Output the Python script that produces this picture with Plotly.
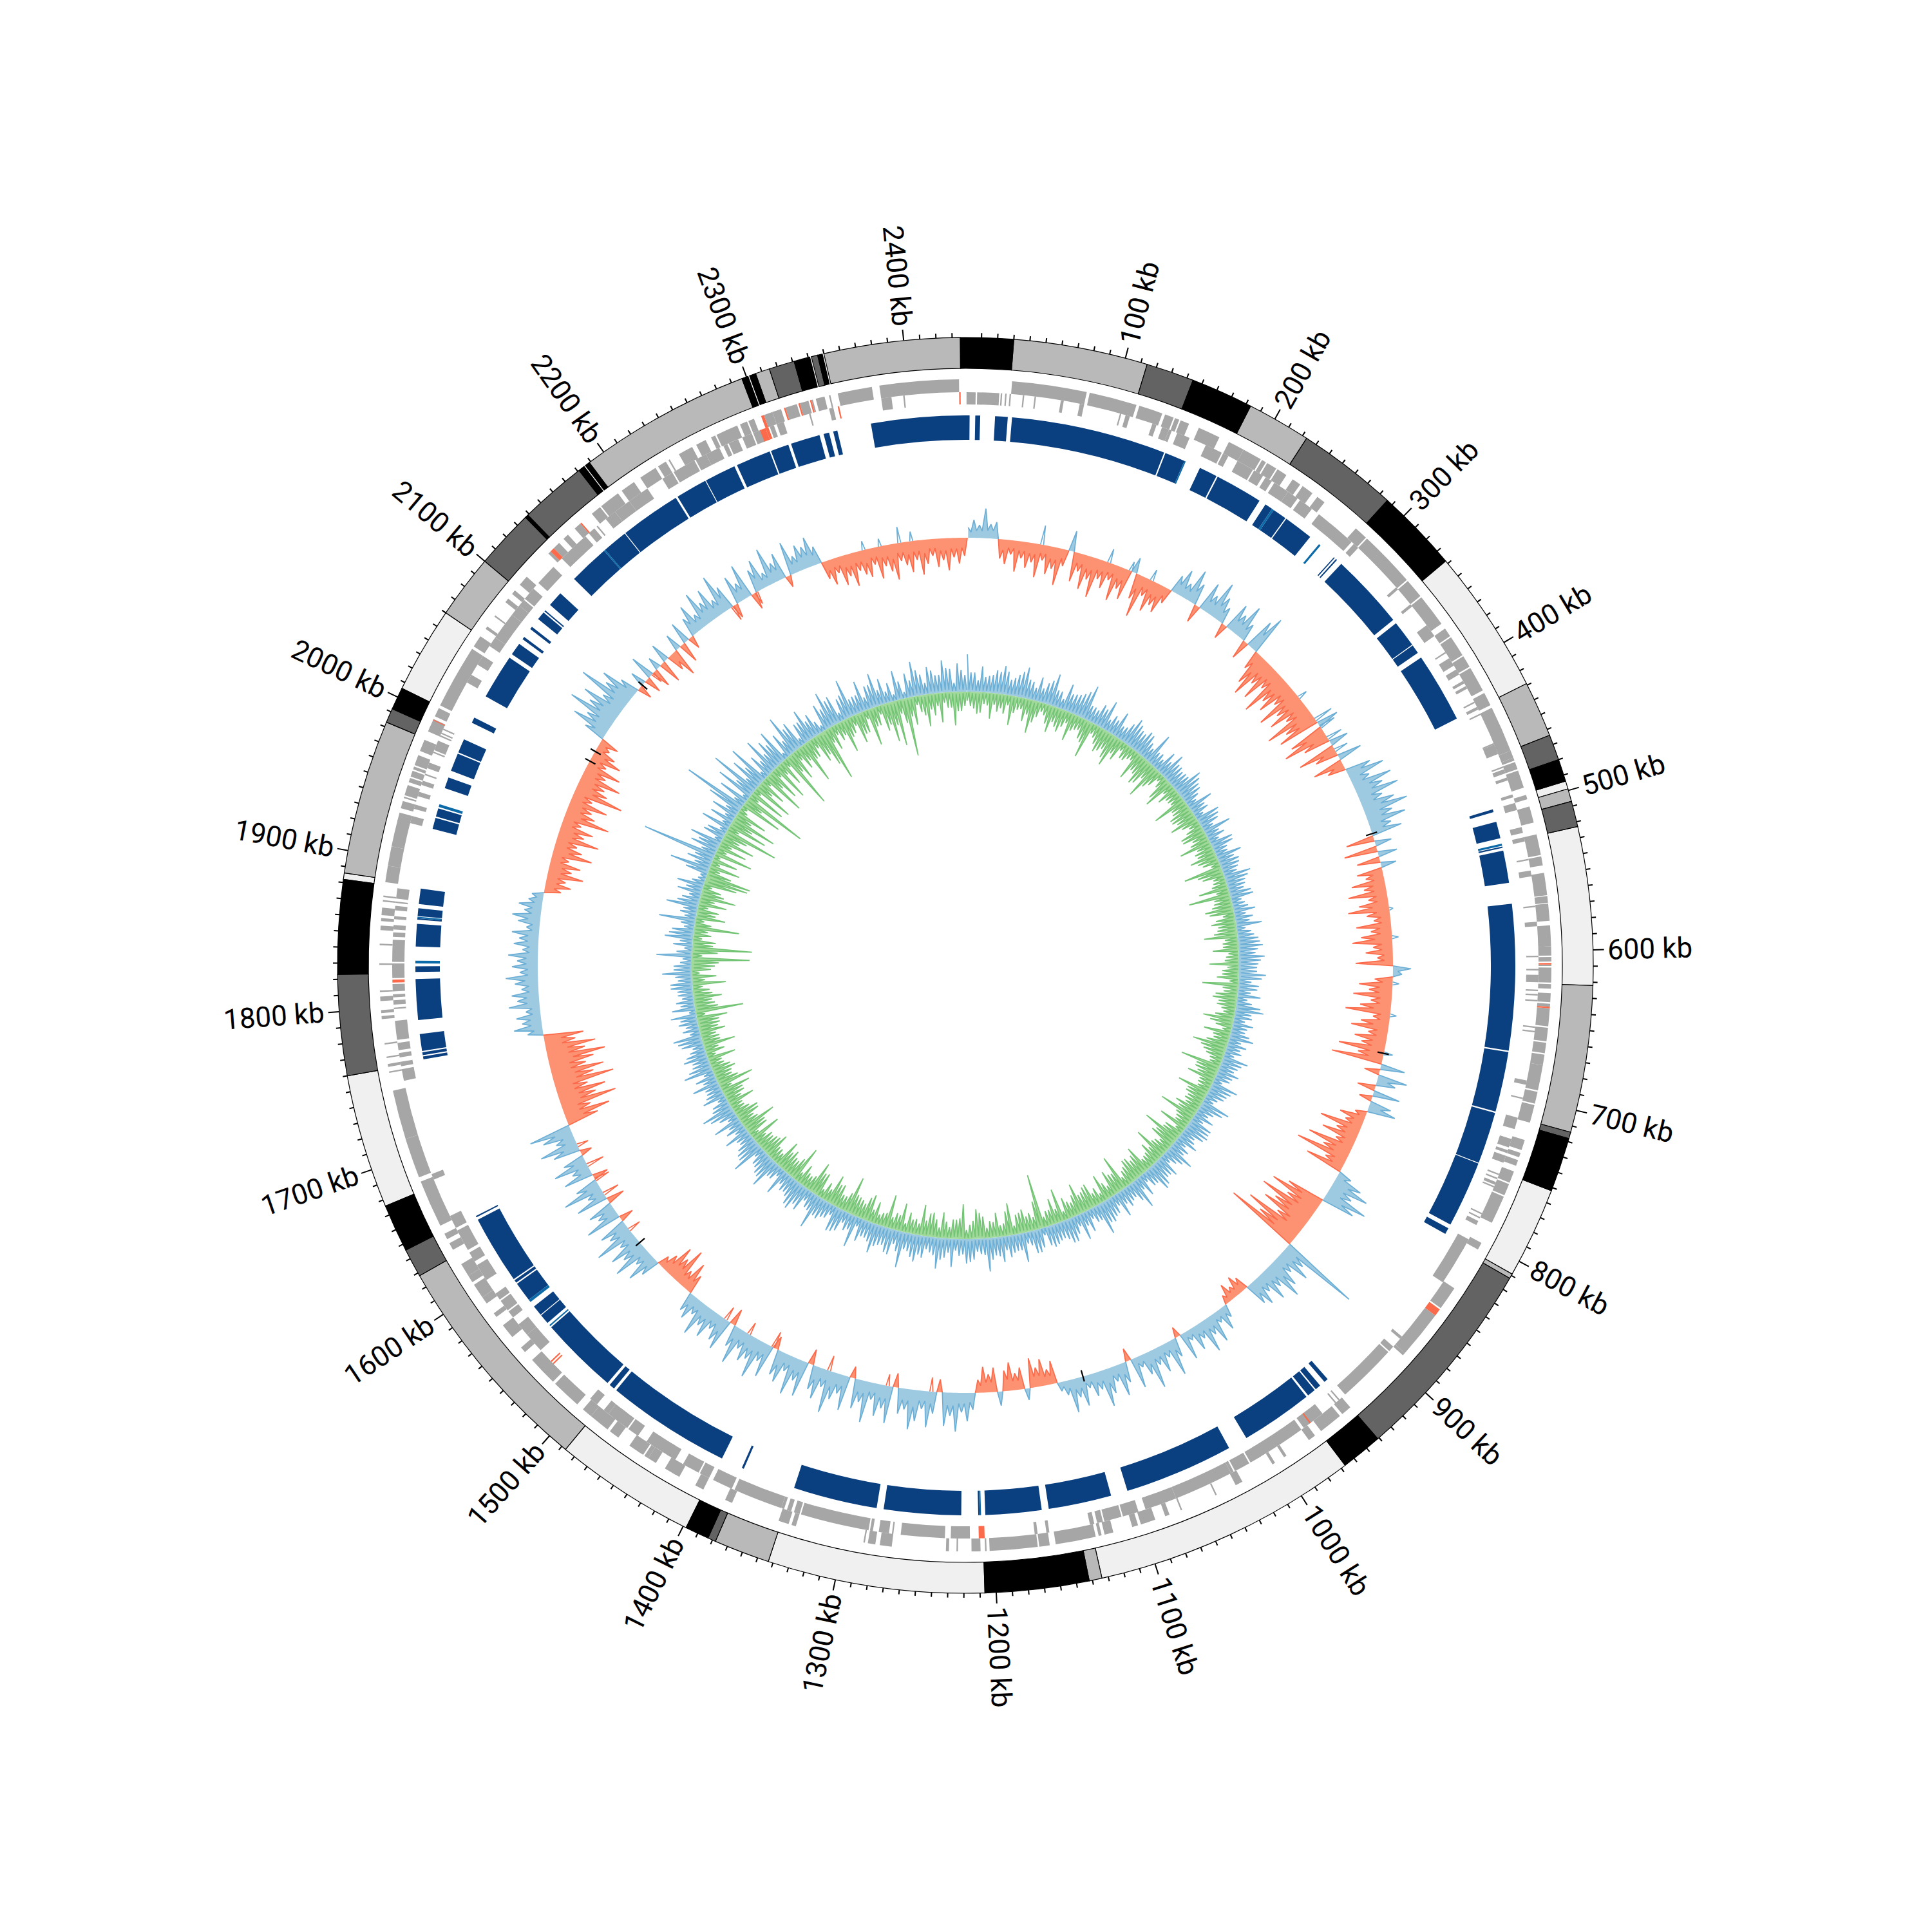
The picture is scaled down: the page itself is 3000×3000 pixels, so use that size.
import plotly.graph_objects as go
import math

GENOME_KB = 2438.2
DEG = 360.0 / GENOME_KB
R_OUT, R_BAND_IN = 975, 927
R_G1 = (890, 910)
R_G2 = (871, 890)
R_C = (816, 854)
BASE_SKEW, BASE_GC = 664, 425
BIN_KB = 5
CENTER = 1491

band_black = [(-3,30),(144,183),(286,338),(480,494),(718,752),(941,967),(1142,1207),(1383,1398),(1646,1676),(1823,1882),(1992,2006),(2137,2139),(2181,2185),(2186,2189),(2297,2301),(2302,2306),(2331,2341),(2346,2349)]
band_dark = [(114,144),(223,286),(464,480),(507,523),(714,718),(812,941),(1378,1383),(1628,1646),(1760,1823),(1983,1992),(2100,2137),(2139,2181),(2315,2331),(2342,2346)]
band_mid = [(30,114),(183,223),(429,464),(499,507),(622,714),(809,812),(1134,1142),(1343,1378),(1487,1628),(1886,1983),(2060,2100),(2189,2297),(2306,2315),(2350,2435)]
band_light = [(338,429),(494,499),(523,622),(752,809),(967,1134),(1207,1343),(1398,1487),(1676,1760),(1882,1886),(2006,2060)]

contigs = [(-67,3),(7,10.5),(21,30),(33,143.5),(144.5,159),(171,184),(185,219),(224,229.5),(231,241),(241.8,263),(285,285.8),(287,288),(292,346),(349,368),(368.6,375),(379,429),(498,500),(507,519),(525,526),(528,551),(566,670),(671,714),(715,752),(752.6,800),(803,807.5),(940,943),(947,951),(952,958),(959.5,1011),(1025,1103),(1115,1160),(1165,1205),(1209,1210),(1222,1277),(1282,1342),(1380,1381.5),(1397,1486),(1488,1492),(1494,1550),(1554,1561),(1561.6,1569),(1575,1589),(1590,1592),(1593,1642),(1644,1645),(1762,1764),(1765,1767),(1768,1780),(1790,1819),(1824,1828),(1842,1858),(1861,1862),(1863.5,1869),(1872,1883),(1926,1934),(1935,1941),(1956,1964),(1969,1982),(1983,1993),(2006,2010),(2027,2059),(2062,2071),(2075,2077),(2084,2086),(2093,2099),(2100,2101),(2106,2117),(2131,2160),(2161,2179),(2179.6,2223),(2224.5,2247),(2247.6,2270),(2272,2297),(2298,2311),(2313,2334),(2337,2341),(2344,2347)]
contigs_light = [(159,160),(229.5,231),(271,272.5),(523,524.5),(1208,1209),(1551,1552),(1573,1575),(1830,1832),(1862,1863),(1942,1944),(2160,2161)]

genes_outer = [(31,81),(83,115),(117,133),(135,141),(142,145),(146,152),(159,174),(181,192),(192,205),(206,209),(210,217),(218,225),(230,236),(238,246),(250,256),(283,292),(293,331),(332,345),(346,368),(372,378),(379,393),(394,402),(403,420),(422,431),(433,464),(464,469),(469,471),(472,477),(478,490),(495,498),(503,514),(522,536),(537,543),(548,563),(563.5,568),(568.5,580),(583,597),(597,603),(604,607),(609,610),(611,621),(622,625),(628,634),(635,637),(638,650),(651,660),(661,668),(669,676),(676,693),(694,702),(703,715),(727,734),(736,739),(741,745),(749,757),(758,766),(767,786),(801,806),(836,852),(858,890),(890,892),(941,948),(950,966),(971,976),(994,996),(1003,1005),(1028,1033),(1047,1048),(1072,1073),(1081,1084),(1091,1101),(1103,1107),(1120,1126),(1128,1130),(1132,1159),(1163,1170),(1171,1203),(1205,1206),(1209,1215),(1224,1225),(1230,1232),(1268,1276),(1279,1284),(1286,1287),(1333,1336),(1338,1345),(1378,1383),(1399,1405),(1417,1421),(1420,1428),(1435,1441),(1441,1444),(1445,1449),(1448,1456),(1465,1472),(1474,1488),(1488,1495),(1500,1520),(1522,1542),(1549,1553),(1562,1572),(1579,1582),(1590,1595),(1595,1605),(1607,1612),(1612,1621),(1632,1637),(1640,1644),(1650,1682),(1685,1712),(1712,1745),(1757,1758),(1761,1763),(1767,1768),(1776,1777),(1793,1795),(1797,1799),(1805,1808),(1811,1812),(1829,1830),(1842,1843),(1852,1855),(1858,1860),(1862,1867),(1871,1872),(1874,1875),(1884,1895),(1895,1908),(1908,1926),(1925,1931),(1934,1939),(1941,1942),(1943,1950),(1952,1955),(1956,1960),(1961,1963),(1964,1971),(1974,1982),(1988,1992),(1990,1997),(1999,2005),(2007,2050),(2052,2060),(2066,2068),(2076,2077),(2088,2091),(2095,2098),(2103,2110),(2131,2133),(2136,2141),(2145,2149),(2155,2160),(2170,2177),(2178,2192),(2195,2205),(2210,2222),(2224,2230),(2232,2233),(2240,2250),(2253,2260),(2264,2267),(2268,2283),(2285,2290),(2291,2295),(2302,2308),(2308,2314),(2317,2325),(2327,2333),(2335,2336),(2338,2344),(2347,2348),(2353,2376),(2381,2434)]
genes_inner = [(0.8,7),(8,23),(24,25),(27,28),(30,31),(39,40),(47,48),(65,67),(78,81),(106,107),(110,113),(129,132),(136,141),(141,143),(147,156),(168,180),(181,185),(192,204),(205,212),(214,219),(221,232),(232,240),(242,252),(258,287),(289,293),(330,332),(345,347),(363,372),(385,386),(390,396),(399,403),(408,410),(412,414),(424,425),(428,430),(433,434),(455,456),(456,460),(458,463),(472,473),(474,477),(480,482),(492,494),(498,503),(515,519),(522,525),(537,538),(545,549),(569,570),(580,583),(603,604),(612,613),(616,621),(626,627),(629,630),(633,634),(651,652),(654,655),(688,691),(700,701),(714,722),(729,735),(737,739),(741,746),(754,755),(757,758),(760,762),(763,764),(783,784),(786,787),(789,792),(803,811),(810,837),(883,885),(892,896),(897,938),(943,944),(946,947),(958,974),(976,1011),(1009,1017),(1018,1029),(1030,1032),(1032,1073),(1073,1095),(1100,1111),(1112,1124),(1125,1129),(1131,1134),(1162,1164),(1170,1172),(1216,1229),(1233,1263),(1268,1269),(1271,1278),(1282,1284),(1285,1332),(1333,1337),(1339,1342),(1344,1346),(1346,1380),(1382,1396),(1399,1406),(1407,1417),(1414,1419),(1425,1432),(1430,1442),(1441,1448),(1455,1463),(1464,1476),(1470,1480),(1480,1484),(1490,1496),(1543,1557),(1557,1566),(1572,1577),(1578,1586),(1587,1592),(1603,1610),(1605,1615),(1618,1625),(1627,1642),(1644,1653),(1680,1684),(1750,1758),(1760,1763),(1766,1769),(1771,1776),(1778,1791),(1799,1800),(1802,1805),(1807,1809),(1811,1816),(1820,1830),(1831,1846),(1848,1851),(1853,1856),(1860,1862),(1866,1869),(1871,1872),(1874,1881),(1926,1931),(1936,1939),(1945,1948),(1953,1956),(1960,1961),(1965,1969),(1976,1977),(1978,1985),(1988,1989),(1990,1991),(1993,1994),(2029,2035),(2043,2050),(2058,2065),(2065,2084),(2084,2092),(2092,2097),(2098,2107),(2112,2127),(2135,2148),(2147,2157),(2160,2165),(2167,2168),(2175,2183),(2183,2195),(2195,2210),(2222,2230),(2231,2247),(2248,2256),(2256,2266),(2269,2272),(2273,2280),(2283,2290),(2291,2297),(2303,2306),(2308,2313),(2331,2332),(2345,2348),(2381,2388),(2396,2397)]
red_outer = [(608,609),(637,638),(853,858),(1996,1996.6),(2133,2136),(2160,2161),(2300,2302),(2316,2317),(2326,2327),(2334,2335)]
red_inner = [(968,969),(1206,1210),(1530,1531),(1532,1533),(1817,1819),(2296,2300),(2300,2302),(2351,2352),(2434,2435)]

skew = [16,28,20,46,22,26,
-30,-38,-22,-48,-26,-40,-30,-52,-24,-44,
-34,-58,-26,32,-46,-28,-54,-36,-62,-30,
-42,-26,-56,-34,-48,24,-40,-66,-28,-50,
-36,-44,-24,
28,42,24,52,34,-28,46,30,58,38,
26,-24,44,32,54,28,-30,48,62,
-30,-52,-68,-40,-62,-34,-74,-46,-58,-36,
-70,-44,-62,-38,-78,-50,-66,34,-56,-72,
-42,30,-60,-36,38,-48,-28,
40,58,30,62,44,66,36,52,70,42,60,34,48,
-44,26,-52,30,-36,24,
-40,-28,-52,-34,-60,-30,-46,-64,-36,-26,
-54,-32,-48,-62,-30,-42,-24,-58,28,14,
-28,-52,-36,-60,-32,-48,-70,-26,-44,-58,
-30,-50,-38,-72,-40,-80,
38,-24,46,30,-28,42,-20,34,44,-18,
-40,-28,-66,-36,-56,-30,-72,-44,-84,-32,-60,22,
44,60,38,68,52,
-60,-84,-52,-92,-64,-78,-48,-96,-70,-118,
126,
38,54,30,48,62,34,50,28,44,36,
-22,-30,-18,-28,-14,
20,36,18,46,28,52,24,38,16,44,
-16,30,56,22,42,26,60,34,18,48,
-20,32,50,24,40,58,28,36,20,46,
30,52,22,14,
-36,-24,-42,-30,-46,18,-34,-26,-44,-32,22,-38,-28,-40,-20,
26,44,30,60,36,52,-20,34,56,28,
48,62,32,40,-22,58,36,50,26,64,
34,46,-18,54,30,42,66,28,50,38,
-24,56,34,60,26,48,40,-20,52,30,
62,36,44,28,58,34,-26,50,40,26,
46,32,54,24,38,30,
-30,-46,-26,-58,-36,-50,-28,-18,
30,48,26,58,36,52,28,64,34,44,
-22,56,30,40,-28,50,26,62,36,-24,
46,28,54,34,-18,42,60,30,48,66,
-50,-72,-44,-88,-58,-76,-50,-94,-64,-82,-56,-70,-90,-60,-78,-48,-62,
24,44,30,38,22,48,34,42,26,36,
50,28,40,32,46,24,38,30,42,20,
34,44,26,36,22,18,
-26,-40,-30,-56,-36,-48,-28,-62,-44,-34,
-66,-40,-52,-30,-72,-46,-38,-60,-32,-78,
-50,-42,-64,-36,-56,-28,-48,-34,-20,-30,
34,60,42,78,50,66,38,84,46,58,30,-22,
24,-26,38,-30,20,-36,30,-28,-44,26,-32,34,-20,
30,46,24,56,34,50,26,62,38,-22,
44,28,54,-26,36,48,22,58,30,42,
-18,52,26,40,34,46,28,
-28,-40,-24,-46,-34,-52,-30,-38,-44,-26,
-50,-32,-42,-56,-28,-36,-48,-30,-54,-38,
-26,-44,-34,-50,-30,-40,-28]

skew_up_extra = [(70,30),(133,22),(154,15),(175,18),(347,15),(372,30),(380,26),(392,25),(405,22),(558,6),(584,10),(626,10),(655,10),(690,14),(2378,25),(2389,15),(2360,12),(2345,14)]
skew_down_extra = [(1250,-22),(1290,-18),(1345,-24),(1400,-26),(1425,-20),(1450,-22),(1570,-20),(1610,-26),(1625,-24),(1640,-28),(1660,-18),(2120,-18),(2215,-24),(2240,-20)]

gc = [58,-22,30,-34,40,-18,26,-40,36,-28,
44,-30,24,-46,34,-20,48,-36,28,-52,
38,-24,32,-18,50,-42,26,-30,42,-26,
30,-44,36,-22,54,-32,24,-58,34,-20,
46,-38,28,-28,40,-50,22,-34,44,-24,
32,-18,38,-46,26,-30,50,-40,24,-56,
36,-26,42,-20,30,-48,28,-32,46,-22,
34,-54,24,-28,40,-36,26,-44,38,-18,
30,-38,44,-24,28,-50,36,-30,22,-42,
40,-26,32,-60,26,-34,42,-20,30,-46,
24,-65,36,-28,20,-44,34,-18,28,-38,
40,-30,22,-52,32,-24,38,-40,26,-20,
34,-46,28,-26,42,-34,20,-56,30,-22,
36,-38,24,-30,44,-18,28,-48,32,-26,
22,-42,38,-24,30,-54,26,-34,40,-20,
28,-63,34,-36,24,-44,42,-22,30,-50,
20,-32,46,-28,26,-38,32,-58,36,-24,
38,-46,22,-30,34,-60,28,-40,44,-26,
24,-52,36,-34,30,-20,42,-44,26,-28,
34,-36,48,-24,22,-56,30,-32,40,-18,
28,-42,36,-26,50,-38,24,-30,34,-48,
42,-22,28,-34,38,-52,26,-40,32,-24,
30,-85,-44,36,-28,22,-36,46,-30,26,
-50,34,-20,40,-38,28,-26,52,-34,24,
-46,32,-22,38,-54,26,-30,44,-18,30,
-40,48,-28,24,-36,34,-48,42,-24,28,
-32,56,-44,22,-26,38,-52,30,-20,46,
-34,26,-42,36,-24,50,-30,28,-58,34,
-22,40,-36,24,-46,32,-28,54,-38,26,
-50,38,-20,44,-32,30,-56,28,-26,42,
-36,24,-44,48,-22,34,-40,26,-30,52,
-28,36,-48,22,-34,40,-54,30,-24,44,
-38,28,-20,50,-42,26,-32,36,-46,24,
-56,42,-26,32,-36,46,-22,28,-44,38,
-30,24,-50,34,-28,44,-40,26,-34,30,
-48,40,-75,36,-32,28,-44,24,-26,34,
-52,22,-38,46,-30,28,-42,-90,55,-40,
-93,30,-36,44,-28,34,-70,22,57,-46,
26,-34,50,-44,28,-56,38,-30,42,-52,
-68,-71,36,63,-48,40,-40,117,-60,44,
-46,50,-54,34,-38,-85,46,-62,38,-72,
42,-50,56,101,-66,48,-102,60,-58,79,
-64,52,-44,66,-70,38,-52,58,-60,46,
-42,54,-89,40,-48,62,-36,44,-66,34,
-30,50,-44,36,-56,-83,42,-38,56,-28,
44,-52,34,-26,60,-46,28,-34,48,-58,
36,-30,52,-42,40,-62,30,-71,46,-38,
-91,38,-44,54,-26,32,-50,42,-34,28,
-46,50,-24,36,-52,44,-30,26]

gc_opposite = [14,30,26,18,32,24,20,28,18,34,
22,36,16,28,26,40,18,30,24,20,
34,22,14,38,30,26,24,16,36,28,
18,32,26,42,20,24,36,22,16,30,
28,18,34,24,40,20,26,32,14,38,
24,30,16,36,28,20,44,22,26,18,
34,24,12,30,38,26,18,28,22,40,
20,32,26,16,36,24,30,14,28,34,
26,18,38,22,30,16,24,34,28,20,
32,26,14,30,40,22,18,36,24,28,
20,34,26,16,32,24,38,18,30,22,
28,14,36,26,20,34,24,30,16,40,
22,30,18,28,26,36,14,32,24,20,
34,16,28,38,22,26,30,18,36,24,
14,30,26,20,34,22,40,16,28,32,
18,24,36,26,30,14,22,34,20,28,
32,16,26,38,24,20,30,18,28,36,
22,34,14,26,30,18,36,24,20,32,
28,16,24,30,22,38,18,26,34,14,
36,20,28,32,16,24,30,22,40,18,
26,30,14,34,20,24,36,16,28,22,
32,18,26,38,14,30,22,28,24,34,
16,12,30,20,36,24,18,32,26,14,
28,38,22,18,30,24,34,16,26,40,
20,28,36,14,24,32,18,30,22,26,
34,16,28,38,20,24,30,18,36,22,
26,14,32,24,40,18,28,22,34,16,
30,20,26,36,14,28,24,32,18,30,
38,22,16,34,26,20,30,14,28,36,
18,24,32,22,40,16,26,34,20,28,
14,30,24,18,36,22,28,32,16,26,
38,20,30,14,24,34,18,28,22,36,
16,26,40,20,30,24,14,32,28,18,
24,34,22,28,16,30,36,20,26,14,
32,22,18,28,38,24,16,30,20,34,
26,14,10,36,22,28,18,30,24,16,
34,20,26,12,28,36,18,14,16,24,
12,32,20,14,38,22,16,26,14,18,
30,22,16,34,24,18,36,26,14,20,
12,10,38,18,26,14,30,10,24,16,
34,20,12,28,30,12,18,14,36,16,
28,22,14,10,18,30,10,16,32,12,
22,26,34,14,12,30,24,16,28,20,
36,14,10,32,24,18,38,26,12,30,
34,18,28,36,20,10,24,32,16,40,
22,14,30,38,16,26,34,28,14,20,
30,36,14,24,34,18,38,10,22,28,
10,30,26,14,40,32,18,24,36,20,
28,16,38,24,14,30,34,22]

mark_kb = [488,690,1111,1555,2022,2032,2106]
tick_labels = list(range(100, 2500, 100))

fig = go.Figure()

def bars(segs, r0, r1, color, line=None):
    fig.add_trace(go.Barpolar(
        theta=[(a + b) / 2 * DEG for a, b in segs],
        width=[(b - a) * DEG for a, b in segs],
        r=[r1 - r0] * len(segs),
        base=[r0] * len(segs),
        marker=dict(color=color, line=dict(color=line or color, width=1.2 if line else 0)),
        hoverinfo="skip", showlegend=False))

for segs, col in [(band_light, "#f0f0f0"), (band_mid, "#b9b9b9"), (band_dark, "#636363"), (band_black, "#000000")]:
    bars(segs, R_BAND_IN, R_OUT, col, "#000000")
bars(genes_outer, *R_G1, "#a6a6a6")
bars(genes_inner, *R_G2, "#a6a6a6")
bars(red_outer, *R_G1, "#fb6a4a")
bars(red_inner, *R_G2, "#fb6a4a")
bars(contigs, *R_C, "#0a3f80")
bars(contigs_light, *R_C, "#0d6aa8")

def side(mags, base, sign, frac, fill, line):
    """One side of a track: a narrow spike per bin, the solid band between bins."""
    n = len(mags)
    th, off = [], []
    for i in range(n):
        th.append((i + 0.5) * BIN_KB * DEG); off.append(mags[i])
        th.append((i + 1.0) * BIN_KB * DEG); off.append(frac * min(mags[i], mags[(i + 1) % n]))
    m = len(th)
    fig.add_trace(go.Scatterpolar(
        theta=th + th[::-1], r=[base + sign * o for o in off] + [base] * m,
        mode="lines", fill="toself", fillcolor=fill, line=dict(width=0, color=fill),
        hoverinfo="skip", showlegend=False))
    lt, lr = [], []
    for k in range(m):
        a, p, q = off[k], off[k - 1], off[(k + 1) % m]
        if a or p or q:
            lt.append(th[k]); lr.append(base + sign * a)
        if a == 0 and q == 0:
            lt.append(None); lr.append(None)
    fig.add_trace(go.Scatterpolar(theta=lt, r=lr, mode="lines", line=dict(width=1.7, color=line),
                                  connectgaps=False, hoverinfo="skip", showlegend=False))

def extra_spikes(items, base, color):
    lt, lr = [], []
    for kb, v in items:
        lt += [(kb - 1.4) * DEG, kb * DEG, (kb + 1.4) * DEG, None]
        lr += [base, base + v, base, None]
    fig.add_trace(go.Scatterpolar(theta=lt, r=lr, mode="lines", line=dict(width=1.7, color=color),
                                  connectgaps=False, hoverinfo="skip", showlegend=False))

BLUE_F, BLUE_L = "#9ecae1", "#6baed6"
side([max(v, 0) for v in skew], BASE_SKEW, 1, 0.55, BLUE_F, BLUE_L)
side([max(-v, 0) for v in skew], BASE_SKEW, -1, 0.55, "#fc9272", "#fb6a4a")
extra_spikes(skew_up_extra, BASE_SKEW, BLUE_L)
extra_spikes(skew_down_extra, BASE_SKEW, "#fb6a4a")

gc_up = [v if v > 0 else e for v, e in zip(gc, gc_opposite)]
gc_down = [-v if v < 0 else e for v, e in zip(gc, gc_opposite)]
side(gc_up, BASE_GC, 1, 0.1, BLUE_F, BLUE_L)
side(gc_down, BASE_GC, -1, 0.1, "#a1d99b", "#74c476")

mt, mr = [], []
for k in mark_kb:
    mt += [k * DEG, k * DEG, None]; mr += [BASE_SKEW - 10, BASE_SKEW + 8, None]
fig.add_trace(go.Scatterpolar(theta=mt, r=mr, mode="lines", line=dict(width=2.2, color="#000000"),
                              connectgaps=False, hoverinfo="skip", showlegend=False))

tt, tr = [], []
for k in range(10, 2440, 10):
    tt += [k * DEG, k * DEG, None]
    tr += [R_OUT, R_OUT + (17 if k % 100 == 0 else 7), None]
fig.add_trace(go.Scatterpolar(theta=tt, r=tr, mode="lines", line=dict(width=2, color="#000000"),
                              connectgaps=False, hoverinfo="skip", showlegend=False))

annotations = []
for k in tick_labels:
    th = k * DEG
    txt = f"{k} kb"
    w = (len(txt) - 3) * 24.5 + 58
    rc = 998 + w / 2
    x = (CENTER + rc * math.sin(math.radians(th))) / 3000
    y = 1 - (CENTER - rc * math.cos(math.radians(th))) / 3000
    ang = th - 90 if th <= 180 else th + 90
    annotations.append(dict(text=txt, x=x, y=y, xref="paper", yref="paper", showarrow=False,
                            xanchor="center", yanchor="middle", textangle=ang,
                            font=dict(family="Roboto", size=44, color="#000000")))

fig.update_layout(
    width=3000, height=3000, margin=dict(l=0, r=0, t=0, b=0), paper_bgcolor="white",
    showlegend=False, annotations=annotations,
    polar=dict(domain=dict(x=[0, 2 * CENTER / 3000], y=[1 - 2 * CENTER / 3000, 1]), bgcolor="white", barmode="overlay",
               radialaxis=dict(visible=False, range=[0, CENTER]),
               angularaxis=dict(visible=False, rotation=90, direction="clockwise", thetaunit="degrees")))
fig.write_html("out.html")
